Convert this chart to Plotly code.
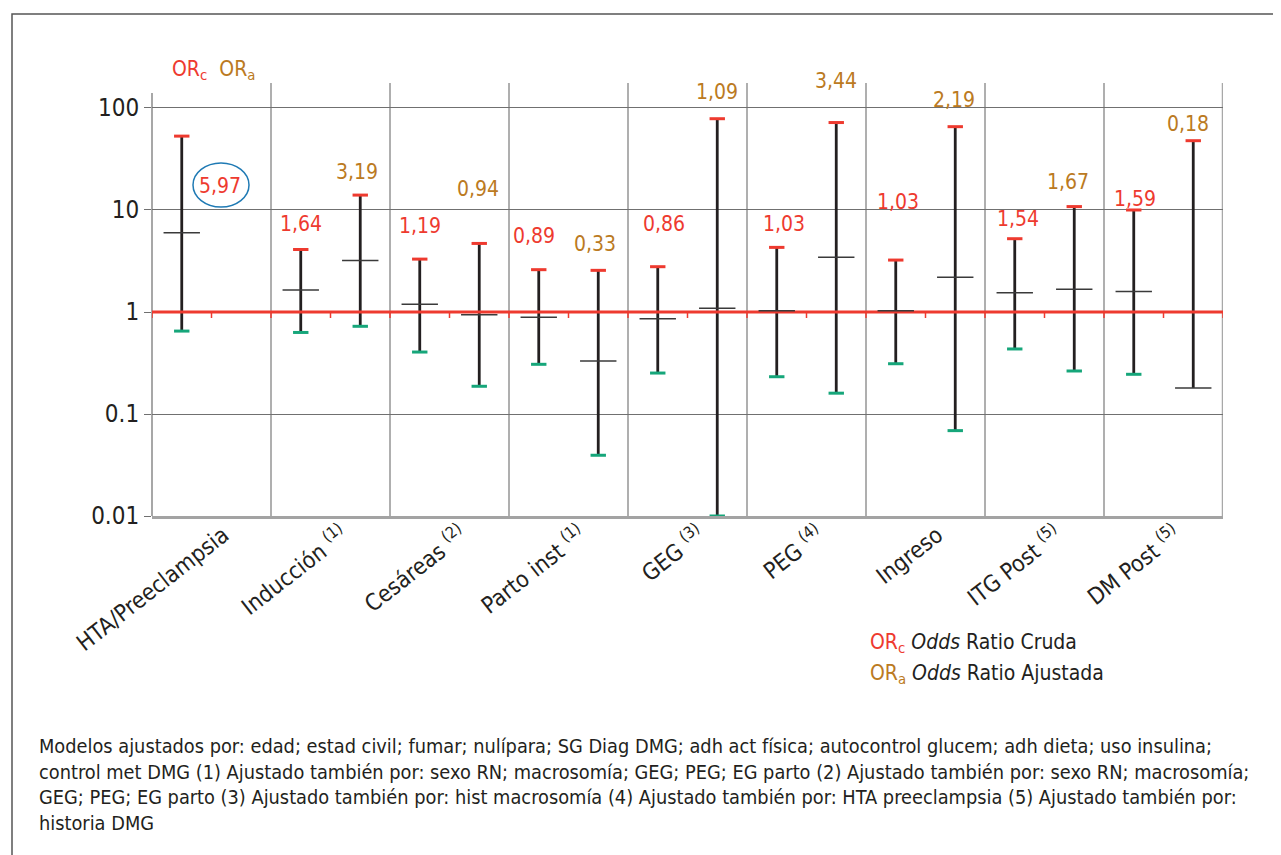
import math
import plotly.graph_objects as go

# ---------------- data ----------------
categories = ["HTA/Preeclampsia", "Inducción <sup>(1)</sup>", "Cesáreas <sup>(2)</sup>",
              "Parto inst <sup>(1)</sup>", "GEG <sup>(3)</sup>", "PEG <sup>(4)</sup>",
              "Ingreso", "ITG Post <sup>(5)</sup>", "DM Post <sup>(5)</sup>"]

or_crude = [5.97, 1.64, 1.19, 0.89, 0.86, 1.03, 1.03, 1.54, 1.59]
or_crude_low = [0.65, 0.63, 0.405, 0.307, 0.252, 0.232, 0.311, 0.434, 0.245]
or_crude_high = [53, 4.1, 3.3, 2.6, 2.78, 4.3, 3.23, 5.23, 10.0]

or_adj = [None, 3.19, 0.94, 0.33, 1.09, 3.44, 2.19, 1.67, 0.18]
or_adj_low = [None, 0.724, 0.187, 0.0394, 0.01, 0.16, 0.0687, 0.264, None]
or_adj_high = [None, 14.0, 4.7, 2.56, 78.5, 72.0, 65.6, 10.8, 47.8]

crude_labels = ["5,97", "1,64", "1,19", "0,89", "0,86", "1,03", "1,03", "1,54", "1,59"]
adj_labels = [None, "3,19", "0,94", "0,33", "1,09", "3,44", "2,19", "1,67", "0,18"]

# label offsets (pixels) relative to the upper cap of each bar
crude_label_dy = [-50, 25, 33, 34, 43, 23, 58, 20, 11]
crude_label_dx = [38, 0, 0, -5, 6, 7, 2, 3, 1]
adj_label_dy = [None, 23, 54, 26, 27, 42, 27, 25, 17]
adj_label_dx = [None, -3, -1, -3, 0, 0, -1, -6, -5]

# ---------------- styles ----------------
RED = "#ee3a2f"
ORANGE = "#bb7a22"
GREEN = "#16a67a"
BLUE = "#1f7ab4"
DARK = "#231f20"
FONT = "DejaVu Sans Condensed, Roboto, sans-serif"
OFF = 0.25

YMIN, YMAX = -2, 2.245

n = len(categories)
xc = [i - OFF for i in range(n)]
xa = [i + OFF for i in range(n)]

fig = go.Figure()

# vertical CI lines
lx, ly = [], []
for i in range(n):
    lx += [xc[i], xc[i], None]
    ly += [or_crude_low[i], or_crude_high[i], None]
    if or_adj[i] is not None:
        lo = or_adj_low[i] if or_adj_low[i] is not None else or_adj[i]
        lx += [xa[i], xa[i], None]
        ly += [lo, or_adj_high[i], None]
fig.add_trace(go.Scatter(x=lx, y=ly, mode="lines", line=dict(color=DARK, width=2.8),
                         hoverinfo="skip", showlegend=False))

# reference line at OR = 1
fig.add_trace(go.Scatter(x=[-0.5, n - 0.5], y=[1, 1], mode="lines",
                         line=dict(color=RED, width=3), hoverinfo="skip", showlegend=False))

# point estimates
px_ = [xc[i] for i in range(n)] + [xa[i] for i in range(n) if or_adj[i] is not None]
py_ = list(or_crude) + [v for v in or_adj if v is not None]
fig.add_trace(go.Scatter(x=px_, y=py_, mode="markers",
                         marker=dict(symbol="line-ew", size=26, line=dict(color="#3a3a3a", width=1.5)),
                         showlegend=False))

# upper caps (red)
ux = xc + [xa[i] for i in range(n) if or_adj_high[i] is not None]
uy = or_crude_high + [v for v in or_adj_high if v is not None]
fig.add_trace(go.Scatter(x=ux, y=uy, mode="markers",
                         marker=dict(symbol="line-ew", size=11, line=dict(color=RED, width=3)),
                         showlegend=False))

# lower caps (green)
dx_ = xc + [xa[i] for i in range(n) if or_adj_low[i] is not None]
dy_ = or_crude_low + [v for v in or_adj_low if v is not None]
fig.add_trace(go.Scatter(x=dx_, y=dy_, mode="markers",
                         marker=dict(symbol="line-ew", size=11, line=dict(color=GREEN, width=3)),
                         showlegend=False))

annotations = []
for i in range(n):
    annotations.append(dict(x=xc[i], y=math.log10(or_crude_high[i]), xref="x", yref="y",
                            text=crude_labels[i], showarrow=False, xshift=crude_label_dx[i],
                            yshift=crude_label_dy[i],
                            font=dict(family=FONT, size=21, color=RED)))
    if adj_labels[i] is not None:
        annotations.append(dict(x=xa[i], y=math.log10(or_adj_high[i]), xref="x", yref="y",
                                text=adj_labels[i], showarrow=False, xshift=adj_label_dx[i],
                                yshift=adj_label_dy[i],
                                font=dict(family=FONT, size=21, color=ORANGE)))

# page offset of the plot div (body margin)
PAGE_OFF = 8
# plot geometry (page pixels)
L, T, W, H = 152, 83, 1071, 433
FIG_W, FIG_H = 1281 - PAGE_OFF, 855 - PAGE_OFF


def pxp(x):
    return (x - L) / W


def pyp(y):
    return (T + H - y) / H


annotations.append(dict(x=pxp(170), y=pyp(70), xref="paper", yref="paper", xanchor="left",
                        yanchor="middle", showarrow=False,
                        text=f"<span style='color:{RED}'>OR<sub>c</sub></span>  "
                             f"<span style='color:{ORANGE}'>OR<sub>a</sub></span>",
                        font=dict(family=FONT, size=21)))
annotations.append(dict(x=pxp(868), y=pyp(643), xref="paper", yref="paper", xanchor="left",
                        yanchor="middle", showarrow=False,
                        text=f"<span style='color:{RED}'>OR<sub>c</sub></span> <i>Odds</i> Ratio Cruda",
                        font=dict(family=FONT, size=21, color=DARK)))
annotations.append(dict(x=pxp(868), y=pyp(674), xref="paper", yref="paper", xanchor="left",
                        yanchor="middle", showarrow=False,
                        text=f"<span style='color:{ORANGE}'>OR<sub>a</sub></span> <i>Odds</i> Ratio Ajustada",
                        font=dict(family=FONT, size=21, color=DARK)))

footnote = ("Modelos ajustados por: edad; estad civil; fumar; nulípara; SG Diag DMG; adh act física; autocontrol glucem; adh dieta; uso insulina;<br>"
            "control met DMG (1) Ajustado también por: sexo RN; macrosomía; GEG; PEG; EG parto (2) Ajustado también por: sexo RN; macrosomía;<br>"
            "GEG; PEG; EG parto (3) Ajustado también por: hist macrosomía (4) Ajustado también por: HTA preeclampsia (5) Ajustado también por:<br>"
            "historia DMG")
annotations.append(dict(x=pxp(37), y=pyp(733), xref="paper", yref="paper", xanchor="left",
                        yanchor="top", align="left", showarrow=False, text=footnote,
                        font=dict(family=FONT, size=19.8, color=DARK)))

shapes = []
# category dividers
for k in range(n - 1):
    shapes.append(dict(type="line", xref="x", yref="paper", x0=k + 0.5, x1=k + 0.5, y0=0, y1=1,
                       line=dict(color="#7a7a7a", width=1.2), layer="below"))
shapes.append(dict(type="line", xref="x", yref="paper", x0=n - 0.5, x1=n - 0.5, y0=0, y1=1,
                   line=dict(color="#a8a8a8", width=2.5), layer="below"))
# left axis line (starts slightly below the top of the plot)
shapes.append(dict(type="line", xref="paper", yref="paper", x0=0, x1=0, y0=0, y1=pyp(93),
                   line=dict(color="#8a8a8a", width=1.5), layer="below"))
# small red ticks on reference line
y1p = (0 - YMIN) / (YMAX - YMIN)
for k in range(2 * n + 1):
    xv = -0.5 + k * 0.5
    shapes.append(dict(type="line", xref="x", yref="paper", x0=xv, x1=xv, y0=y1p, y1=y1p - 6 / H,
                       line=dict(color=RED, width=1.5)))
# ellipse around 5,97
shapes.append(dict(type="circle", xref="paper", yref="paper", x0=pxp(193), x1=pxp(249),
                   y0=pyp(207), y1=pyp(163), line=dict(color=BLUE, width=1.5)))
# outer frame
shapes.append(dict(type="rect", xref="paper", yref="paper", x0=pxp(12), x1=pxp(1300),
                   y0=pyp(880), y1=pyp(14), line=dict(color="#555555", width=1.5)))

fig.update_layout(
    width=FIG_W, height=FIG_H, autosize=False,
    margin=dict(l=L - PAGE_OFF, r=FIG_W - (L - PAGE_OFF) - W, t=T - PAGE_OFF,
                b=FIG_H - (T - PAGE_OFF) - H),
    paper_bgcolor="white", plot_bgcolor="white",
    font=dict(family=FONT, color=DARK),
    showlegend=False,
    annotations=annotations,
    shapes=shapes,
    xaxis=dict(range=[-0.5, n - 0.5], tickvals=list(range(n)), ticktext=categories,
               tickangle=-38, showgrid=False, zeroline=False, showline=True,
               linecolor="#a3a3a3", linewidth=2.5, ticks="", ticklabelstandoff=-6,
               ticklabelshift=12,
               tickfont=dict(family=FONT, size=23, color=DARK)),
    yaxis=dict(type="log", range=[YMIN, YMAX], tickvals=[0.01, 0.1, 1, 10, 100],
               ticktext=["0.01", "0.1", "1", "10", "100"], showgrid=True,
               gridcolor="#707070", gridwidth=1.2, ticks="outside", ticklen=7,
               tickcolor="#707070", showline=False,
               zeroline=False, tickfont=dict(family=FONT, size=24, color=DARK)),
)

fig.write_html("out.html")
